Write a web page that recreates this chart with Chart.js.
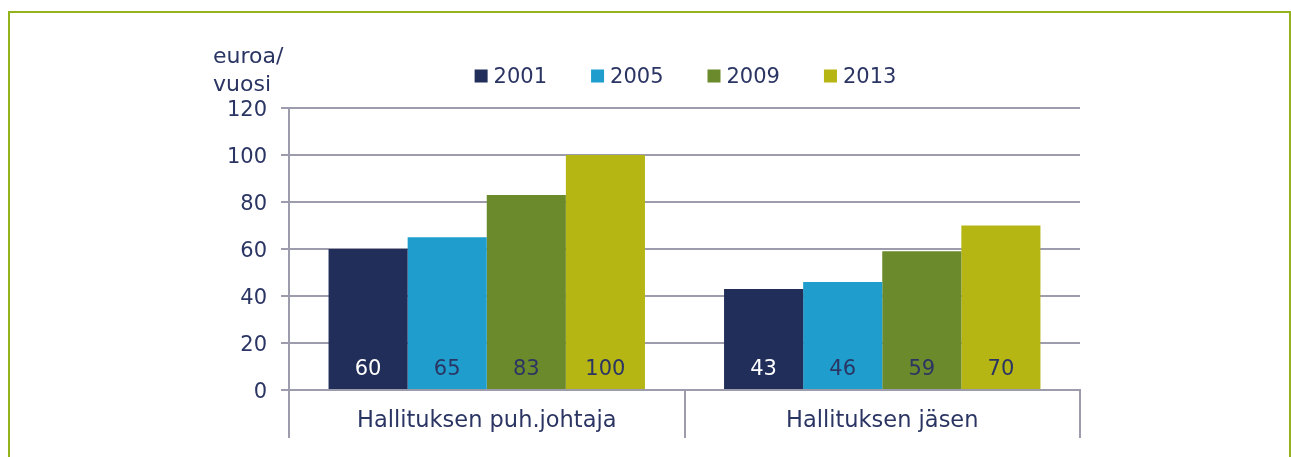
<!DOCTYPE html>
<html>
<head>
<meta charset="utf-8">
<script src="https://cdn.jsdelivr.net/npm/chart.js@4"></script>
<style>
  html, body { margin: 0; padding: 0; background: #fff; overflow: hidden; }
  #kehys { position: absolute; left: 8px; top: 11px; right: 0; height: 520px;
           border: 2px solid #93b21c; border-bottom: none; }
  #wrap { position: absolute; left: 0; top: 0; width: 1291px; height: 457px; }
</style>
</head>
<body>
<div id="kehys"></div>
<div id="wrap"><canvas id="kaavio" width="1291" height="457"></canvas></div>
<script>
// Aineisto
const kategoriat = ['Hallituksen puh.johtaja', 'Hallituksen jäsen'];
const vuodet = ['2001', '2005', '2009', '2013'];
const arvot2001 = [60, 43];
const arvot2005 = [65, 46];
const arvot2009 = [83, 59];
const arvot2013 = [100, 70];
const yTikit = [0, 20, 40, 60, 80, 100, 120];
const yOtsikko = ['euroa/', 'vuosi'];

const varit = ['#212e5a', '#1f9ecd', '#6b8a2c', '#b5b614'];
const tekstivari = '#2b3563';
const ruudukko = '#9c9cad';
const fontti = 'DejaVu Sans';

// Arvot palkkien sisälle alareunaan
const arvoPlugin = {
    id: 'arvot',
    afterDatasetsDraw(chart) {
        const ctx = chart.ctx;
        const nolla = chart.scales.y.getPixelForValue(0);
        ctx.save();
        ctx.font = '21px "' + fontti + '"';
        ctx.textAlign = 'center';
        ctx.textBaseline = 'middle';
        chart.data.datasets.forEach((ds, i) => {
            chart.getDatasetMeta(i).data.forEach((bar, j) => {
                ctx.fillStyle = i === 0 ? '#ffffff' : tekstivari;
                ctx.fillText(ds.data[j], bar.x, nolla - 20);
            });
        });
        ctx.restore();
    }
};

// Selite ja y-akselin otsikko
const selitePlugin = {
    id: 'selite',
    afterDraw(chart) {
        const ctx = chart.ctx;
        const alue = chart.chartArea;
        ctx.save();
        ctx.textBaseline = 'middle';
        ctx.fillStyle = tekstivari;
        ctx.textAlign = 'left';
        ctx.font = '22px "' + fontti + '"';
        ctx.fillText(yOtsikko[0], 213, 57);
        ctx.fillText(yOtsikko[1], 213, 85);

        ctx.font = '21px "' + fontti + '"';
        const laatikko = 13, rako = 6, vali = 44;
        const leveydet = chart.data.datasets.map(ds => laatikko + rako + ctx.measureText(ds.label).width);
        const yhteensa = leveydet.reduce((a, b) => a + b, 0) + vali * (leveydet.length - 1);
        let x = (alue.left + alue.right) / 2 - yhteensa / 2 + 1;
        const y = 76;
        chart.data.datasets.forEach((ds, i) => {
            ctx.fillStyle = ds.backgroundColor;
            ctx.fillRect(x, y - laatikko / 2, laatikko, laatikko);
            ctx.fillStyle = tekstivari;
            ctx.fillText(ds.label, x + laatikko + rako, y + 2);
            x += leveydet[i] + vali;
        });
        ctx.restore();
    }
};

const sarjat = [arvot2001, arvot2005, arvot2009, arvot2013];

new Chart(document.getElementById('kaavio').getContext('2d'), {
    type: 'bar',
    data: {
        labels: kategoriat,
        datasets: vuodet.map((v, i) => ({
            label: v,
            data: sarjat[i],
            backgroundColor: varit[i],
            borderWidth: 0,
            categoryPercentage: 0.8,
            barPercentage: 1.0
        }))
    },
    options: {
        responsive: false,
        animation: false,
        layout: { padding: { left: 200, right: 211, top: 108, bottom: 0 } },
        plugins: {
            legend: { display: false },
            tooltip: { enabled: false }
        },
        scales: {
            x: {
                grid: {
                    offset: true,
                    drawOnChartArea: false,
                    tickLength: 48,
                    color: ruudukko,
                    lineWidth: 2
                },
                border: { color: ruudukko, width: 2 },
                ticks: {
                    color: tekstivari,
                    font: { family: fontti, size: 22.5 },
                    padding: -30,
                    maxRotation: 0
                },
                afterFit(scale) { scale.height = 67; }
            },
            y: {
                min: 0,
                max: 120,
                afterBuildTicks(scale) { scale.ticks = yTikit.map(v => ({ value: v })); },
                grid: { color: ruudukko, lineWidth: 2, tickLength: 8 },
                border: { color: ruudukko, width: 2 },
                ticks: {
                    color: tekstivari,
                    font: { family: fontti, size: 21 },
                    padding: 14,
                    labelOffset: 3
                },
                afterFit(scale) { scale.width = 89; }
            }
        }
    },
    plugins: [arvoPlugin, selitePlugin]
});
</script>
</body>
</html>
